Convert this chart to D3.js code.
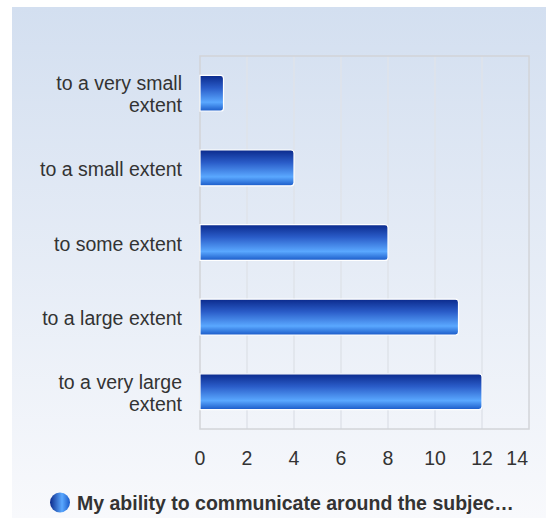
<!DOCTYPE html>
<html><head><meta charset="utf-8">
<script src="https://cdn.jsdelivr.net/npm/d3@7"></script>
<style>
html,body{margin:0;padding:0;background:#fff;}
svg{display:block;font-family:"Liberation Sans",Arial,sans-serif;}
</style></head>
<body>
<svg id="chart" width="546" height="518"></svg>
<script>
const categories = [["to a very small","extent"],["to a small extent"],["to some extent"],["to a large extent"],["to a very large","extent"]];
const values = [1, 4, 8, 11, 12];
const xTicks = [0, 2, 4, 6, 8, 10, 12, 14];
const seriesName = "My ability to communicate around the subjec\u2026";

(function(){
const svg = d3.select("#chart");
const defs = svg.append("defs");
const bg = defs.append("linearGradient").attr("id","bg").attr("x1",0).attr("y1",0).attr("x2",0).attr("y2",1);
bg.append("stop").attr("offset","0%").attr("stop-color","#d3dff0");
bg.append("stop").attr("offset","100%").attr("stop-color","#f8f9fc");
const bar = defs.append("linearGradient").attr("id","bar").attr("x1",0).attr("y1",0).attr("x2",0).attr("y2",1);
bar.append("stop").attr("offset","0%").attr("stop-color","#0b2a8c");
bar.append("stop").attr("offset","35%").attr("stop-color","#2a5cc8");
bar.append("stop").attr("offset","75%").attr("stop-color","#5aa8ff");
bar.append("stop").attr("offset","100%").attr("stop-color","#1a5ac8");
const leg = defs.append("linearGradient").attr("id","leg").attr("x1",0).attr("y1",0).attr("x2",1).attr("y2",0);
leg.append("stop").attr("offset","0%").attr("stop-color","#0b2a8c");
leg.append("stop").attr("offset","60%").attr("stop-color","#5aa8ff");
leg.append("stop").attr("offset","100%").attr("stop-color","#1a5ac8");

svg.append("rect").attr("x",12).attr("y",7).attr("width",534).attr("height",511).attr("fill","url(#bg)");

const pL = 200, pR = 529, pT = 56, pB = 429;
const x = d3.scaleLinear().domain([0,14]).range([pL,pR]);
const y = d3.scaleBand().domain(d3.range(categories.length)).range([pT,pB]).paddingInner(0.52).paddingOuter(0.26);

// grid
svg.append("g").selectAll("line").data(xTicks.slice(1,-1)).join("line")
  .attr("x1",d=>x(d)).attr("x2",d=>x(d)).attr("y1",pT).attr("y2",pB)
  .attr("stroke","#dfe3ea").attr("stroke-width",1.5);
svg.append("rect").attr("x",pL).attr("y",pT).attr("width",pR-pL).attr("height",pB-pT)
  .attr("fill","none").attr("stroke","#d2d4d8").attr("stroke-width",1.5);

// bars
const r = 3;
svg.append("g").selectAll("path").data(values).join("path")
  .attr("d",(d,i)=>{
    const x0 = x(0), x1 = x(d), y0 = y(i), h = y.bandwidth();
    return `M${x0},${y0} H${x1-r} Q${x1},${y0} ${x1},${y0+r} V${y0+h-r} Q${x1},${y0+h} ${x1-r},${y0+h} H${x0} Z`;
  })
  .attr("fill","url(#bar)").attr("stroke","#ffffff").attr("stroke-width",1.2);

// category labels
const lab = svg.append("g").selectAll("text").data(categories).join("text")
  .attr("text-anchor","end").attr("font-size",19.5).attr("fill","#333")
  .attr("x",182)
  .attr("y",(d,i)=>y(i)+y.bandwidth()/2 - (d.length-1)*11 + 8);
lab.selectAll("tspan").data(d=>d).join("tspan")
  .attr("x",182).attr("dy",(d,j)=>j===0?0:22).text(d=>d);

// x tick labels (last label kept inside the plot edge)
svg.append("g").selectAll("text").data(xTicks).join("text")
  .attr("y",465).attr("text-anchor","middle")
  .attr("font-size",19.5).attr("fill","#333").text(d=>d)
  .each(function(d){
    const w = this.getComputedTextLength();
    const cx = Math.min(x(d), pR - 1 - w/2);
    d3.select(this).attr("x", cx);
  });

// legend
svg.append("circle").attr("cx",60).attr("cy",502.5).attr("r",10).attr("fill","url(#leg)");
svg.append("text").attr("x",77).attr("y",509.5).attr("font-size",19.5).attr("font-weight","bold")
  .attr("fill","#333").text(seriesName);
})();
</script>
</body></html>
